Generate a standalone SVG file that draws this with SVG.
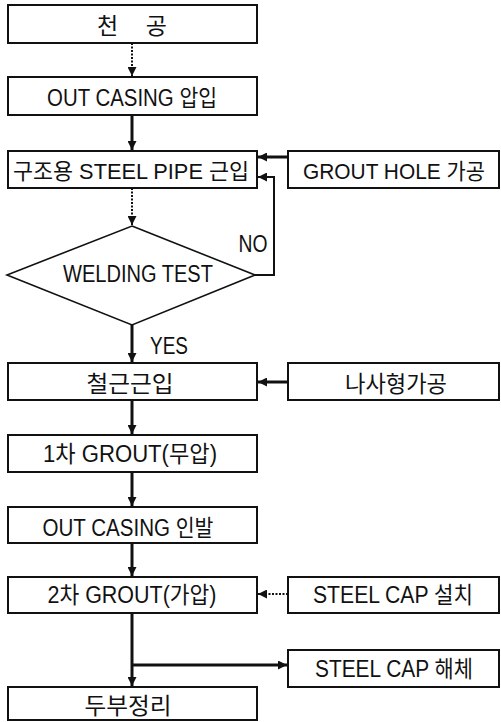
<svg xmlns="http://www.w3.org/2000/svg" width="501" height="722" viewBox="0 0 501 722">
<defs>
<marker id="ah" viewBox="0 0 10 10" refX="10" refY="5" markerWidth="11" markerHeight="9" orient="auto" markerUnits="userSpaceOnUse">
<path d="M0,0 L10,5 L0,10 Z" fill="#111"/>
</marker>
</defs>
<style>
.box{fill:#fff;stroke:#111;stroke-width:2}
.t{font-family:"Liberation Sans","Noto Sans CJK KR",sans-serif;font-size:23px;fill:#111;text-anchor:middle}
.s{font-size:22px}
.c{fill:none;stroke:#111;stroke-width:3}
.thin{fill:none;stroke:#111;stroke-width:2}
.dot{fill:none;stroke:#111;stroke-width:2;stroke-dasharray:2 1.5}
</style>
<rect width="501" height="722" fill="#fff"/>
<g id="connectors">
<line class="dot" x1="132" y1="43" x2="132" y2="76" marker-end="url(#ah)"/>
<line class="c" x1="132" y1="115" x2="132" y2="150" marker-end="url(#ah)"/>
<line class="c" x1="288" y1="157" x2="258" y2="157" marker-end="url(#ah)"/>
<line class="dot" x1="132" y1="188" x2="132" y2="225" marker-end="url(#ah)"/>
<polyline class="thin" points="255,275 274,275 274,177 258,177" marker-end="url(#ah)"/>
<line class="c" x1="132" y1="325" x2="132" y2="362" marker-end="url(#ah)"/>
<line class="c" x1="288" y1="382" x2="258" y2="382" marker-end="url(#ah)"/>
<line class="c" x1="132" y1="400" x2="132" y2="434" marker-end="url(#ah)"/>
<line class="c" x1="132" y1="472" x2="132" y2="506" marker-end="url(#ah)"/>
<line class="c" x1="132" y1="543" x2="132" y2="576" marker-end="url(#ah)"/>
<line class="dot" x1="288" y1="594" x2="258" y2="594" marker-end="url(#ah)"/>
<line class="c" x1="132" y1="613" x2="132" y2="686" marker-end="url(#ah)"/>
<line class="c" x1="131" y1="665" x2="287" y2="665" marker-end="url(#ah)"/>
<text class="t" x="253" y="252" textLength="29" lengthAdjust="spacingAndGlyphs">NO</text>
<text class="t" x="169" y="354" textLength="38" lengthAdjust="spacingAndGlyphs">YES</text>
</g>
<g id="n1"><rect class="box" x="8" y="5" width="249" height="38"/><text class="t" x="132" y="34" textLength="70">천 공</text></g>
<g id="n2"><rect class="box" x="8" y="77" width="249" height="38"/><text class="t" x="132" y="106" textLength="170" lengthAdjust="spacingAndGlyphs">OUT CASING 압입</text></g>
<g id="n3"><rect class="box" x="8" y="151" width="249" height="37"/><text class="t s" x="131" y="179" textLength="236" lengthAdjust="spacingAndGlyphs">구조용 STEEL PIPE 근입</text></g>
<g id="n3b"><rect class="box" x="288" y="151" width="211" height="37"/><text class="t s" x="394" y="179" textLength="182" lengthAdjust="spacingAndGlyphs">GROUT HOLE 가공</text></g>
<g id="d1"><polygon class="box" style="stroke-width:1.6" points="132,226 255,275 132,325 7,275"/><text class="t" x="138" y="282" textLength="150" lengthAdjust="spacingAndGlyphs">WELDING TEST</text></g>
<g id="n4"><rect class="box" x="8" y="363" width="249" height="37"/><text class="t" x="130" y="392" textLength="87" lengthAdjust="spacingAndGlyphs">철근근입</text></g>
<g id="n4b"><rect class="box" x="288" y="363" width="211" height="37"/><text class="t" x="396" y="392" textLength="102" lengthAdjust="spacingAndGlyphs">나사형가공</text></g>
<g id="n5"><rect class="box" x="8" y="435" width="249" height="37"/><text class="t" x="130" y="462" textLength="174" lengthAdjust="spacingAndGlyphs">1차 GROUT(무압)</text></g>
<g id="n6"><rect class="box" x="8" y="507" width="249" height="36"/><text class="t" x="128" y="536" textLength="171" lengthAdjust="spacingAndGlyphs">OUT CASING 인발</text></g>
<g id="n7"><rect class="box" x="8" y="577" width="249" height="36"/><text class="t" x="132" y="603" textLength="169" lengthAdjust="spacingAndGlyphs">2차 GROUT(가압)</text></g>
<g id="n7b"><rect class="box" x="288" y="577" width="211" height="36"/><text class="t" x="393" y="603" textLength="160" lengthAdjust="spacingAndGlyphs">STEEL CAP 설치</text></g>
<g id="n8b"><rect class="box" x="288" y="650" width="211" height="37"/><text class="t" x="394" y="677" textLength="158" lengthAdjust="spacingAndGlyphs">STEEL CAP 해체</text></g>
<g id="n8"><rect class="box" x="8" y="687" width="249" height="33"/><text class="t" x="128" y="714" textLength="87" lengthAdjust="spacingAndGlyphs">두부정리</text></g>
</svg>
